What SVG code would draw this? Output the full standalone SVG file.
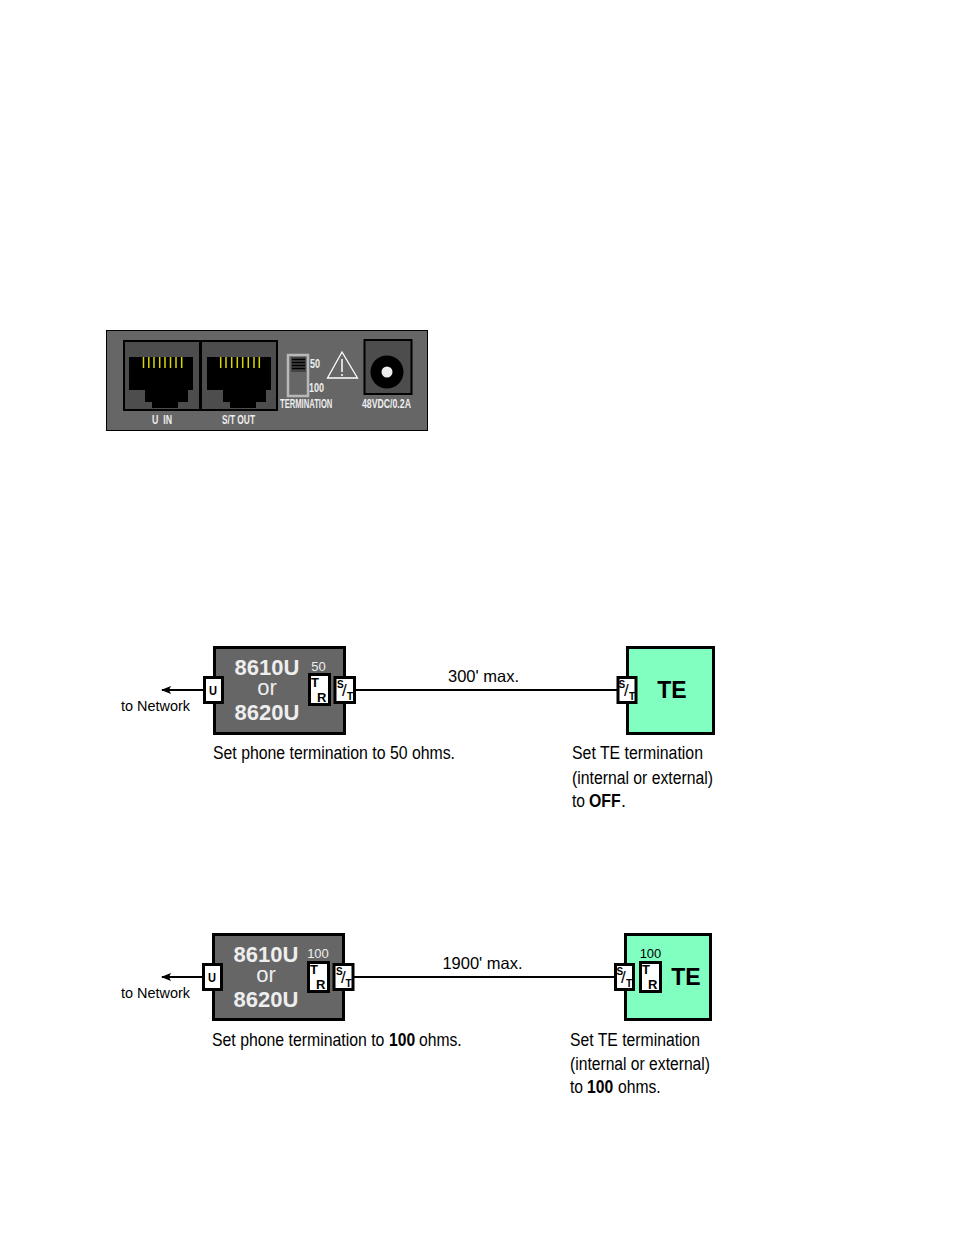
<svg xmlns="http://www.w3.org/2000/svg" width="954" height="1235" viewBox="0 0 954 1235">
<style>
text{font-family:"Liberation Sans",Arial,sans-serif;fill:#000}
.lbl{font-size:18px}
.b{font-weight:bold}
.net{font-size:14.5px}
.pw{fill:#eee;font-size:13px;font-weight:bold;white-space:pre}
.big{fill:#eee;font-size:22px;font-weight:bold;text-anchor:middle}
.or{fill:#eee;font-size:22px;text-anchor:middle}
.te{font-size:23px;font-weight:bold;text-anchor:middle}
.small{font-size:13px;text-anchor:middle}
.ws{fill:#eee}
.max{font-size:16.500px;text-anchor:middle}
.port{font-size:13px;font-weight:bold}
.s{font-size:10px;font-weight:bold}
.sl{font-size:17px}
.ln{stroke:#000;stroke-width:2;fill:none}
.box{fill:#666;stroke:#000;stroke-width:3}
.tebox{fill:#80ffc0;stroke:#000;stroke-width:3}
.wb{fill:#fff;stroke:#000;stroke-width:3}
.jack{fill:#4d4d4d;stroke:#000;stroke-width:2}
.y{stroke:#d8d800;stroke-width:1.500}
</style>
<defs>
<marker id="arr" viewBox="0 0 10 8" refX="1" refY="4" markerWidth="10" markerHeight="8" orient="0" markerUnits="userSpaceOnUse"><path d="M10 0L0 4L10 8L8 4Z" fill="#000"/></marker>
<path id="hole" d="M0 0H64V33H59V45H49V51H23V45H16V33H0Z" fill="#000"/>
</defs>

<g id="panel">
<rect x="106.500" y="330.500" width="321" height="100" fill="#666" stroke="#000"/>
<g id="jack-u"><rect class="jack" x="124" y="341" width="76" height="69"/><use href="#hole" x="129" y="357"/>
<path class="y" d="M143.500 357V368M148.800 357V368M154 357V368M159.700 357V368M165 357V368M170.500 357V368M176 357V368M181.700 357V368"/></g>
<g id="jack-st"><rect class="jack" x="201" y="341" width="76" height="69"/><use href="#hole" x="207" y="357"/>
<path class="y" d="M220.700 357V368M226 357V368M231.700 357V368M237.300 357V368M242.700 357V368M248.300 357V368M254 357V368M259.300 357V368"/></g>
<g id="switch"><rect x="288" y="355" width="20" height="41" fill="#666" stroke="#b8b8b8" stroke-width="2.500"/><rect x="291" y="357" width="15" height="15" fill="#444"/>
<path d="M292 359.500H305M292 362.500H305M292 365.500H305M292 368.500H305" stroke="#000" stroke-width="1.500"/></g>
<g id="warning"><path d="M342 352L327.500 378H357.500Z" fill="none" stroke="#fff" stroke-width="1.300"/><path d="M342 359V372M342 374V376" stroke="#fff" stroke-width="1.500"/></g>
<g id="power"><rect x="364.500" y="340" width="47" height="54" fill="#4d4d4d" stroke="#000" stroke-width="2"/><circle cx="387" cy="372" r="16.500" fill="#000"/><circle cx="387" cy="372" r="5.500" fill="#eee"/></g>
<text class="pw" x="152" y="424" textLength="20" lengthAdjust="spacingAndGlyphs">U  IN</text>
<text class="pw" x="222" y="424" textLength="33" lengthAdjust="spacingAndGlyphs">S/T OUT</text>
<text class="pw" transform="translate(280 408) scale(.587 1)">TERMINATION</text>
<text class="pw" transform="translate(362 408) scale(.671 1)">48VDC/0.2A</text>
<text class="pw" x="310" y="368" textLength="10" lengthAdjust="spacingAndGlyphs">50</text>
<text class="pw" x="309" y="392" textLength="15" lengthAdjust="spacingAndGlyphs">100</text>
</g>

<g id="connectors">
<line class="ln" x1="162" y1="690" x2="204" y2="690" marker-start="url(#arr)"/>
<line class="ln" x1="330" y1="690" x2="335" y2="690"/>
<line class="ln" x1="355" y1="690" x2="618" y2="690"/>
<line class="ln" x1="162" y1="977" x2="204" y2="977" marker-start="url(#arr)"/>
<line class="ln" x1="329" y1="977" x2="334" y2="977"/>
<line class="ln" x1="354" y1="977" x2="615" y2="977"/>
<line class="ln" x1="634" y1="977" x2="640" y2="977"/>
</g>

<g id="unit-1">
<rect class="box" x="214.500" y="647.500" width="130" height="86"/>
<text class="big" x="267" y="675">8610U</text><text class="or" x="267" y="695">or</text><text class="big" x="267" y="720">8620U</text>
<text class="small ws" x="318.500" y="671">50</text>
</g>
<g id="u-1"><rect class="wb" x="204.500" y="677.500" width="18" height="25"/><text class="port" x="209" y="695" textLength="8" lengthAdjust="spacingAndGlyphs">U</text></g>
<g id="tr-1"><rect class="wb" x="309.500" y="674.500" width="20" height="30"/><text class="port" x="311" y="687">T</text><text class="port" x="317" y="702">R</text></g>
<g id="st-1"><rect class="wb" x="335" y="677.500" width="19.500" height="25"/><text class="s" x="337" y="688">S</text><text class="sl" x="342" y="696">/</text><text class="s" x="347" y="700">T</text></g>
<text class="net" x="121" y="711" textLength="69" lengthAdjust="spacingAndGlyphs">to Network</text>
<text class="max" x="483.500" y="682">300' max.</text>
<text class="lbl" x="213" y="759" textLength="242" lengthAdjust="spacingAndGlyphs">Set phone termination to 50 ohms.</text>

<g id="te-1"><rect class="tebox" x="627.500" y="647.500" width="86" height="86"/><text class="te" x="672" y="698">TE</text></g>
<g id="st-2"><rect class="wb" x="618" y="677.500" width="18" height="25"/><text class="s" x="618.500" y="688">S</text><text class="sl" x="624" y="696">/</text><text class="s" x="629" y="700">T</text></g>
<text class="lbl" x="572" y="759" textLength="131" lengthAdjust="spacingAndGlyphs">Set TE termination</text>
<text class="lbl" x="572" y="784" textLength="141" lengthAdjust="spacingAndGlyphs">(internal or external)</text>
<text class="lbl" transform="translate(572 807) scale(.87 1)">to</text>
<text class="lbl b" transform="translate(589 807) scale(.88 1)">OFF</text>
<text class="lbl" x="621" y="807">.</text>

<g id="unit-2">
<rect class="box" x="213.500" y="934.500" width="130" height="85"/>
<text class="big" x="266" y="962">8610U</text><text class="or" x="266" y="982">or</text><text class="big" x="266" y="1007">8620U</text>
<text class="small ws" x="318" y="958">100</text>
</g>
<g id="u-3"><rect class="wb" x="203.500" y="964.500" width="18" height="25"/><text class="port" x="208" y="982" textLength="8" lengthAdjust="spacingAndGlyphs">U</text></g>
<g id="tr-3"><rect class="wb" x="308.500" y="962.500" width="20" height="29"/><text class="port" x="310" y="974">T</text><text class="port" x="316" y="989">R</text></g>
<g id="st-3"><rect class="wb" x="334" y="964.500" width="19" height="25"/><text class="s" x="336" y="975">S</text><text class="sl" x="341" y="983">/</text><text class="s" x="345.500" y="987">T</text></g>
<text class="net" x="121" y="998" textLength="69" lengthAdjust="spacingAndGlyphs">to Network</text>
<text class="max" x="482.500" y="969">1900' max.</text>
<text class="lbl" transform="translate(212 1046) scale(.88 1)">Set phone termination to</text>
<text class="lbl b" transform="translate(389 1046) scale(.87 1)">100</text>
<text class="lbl" transform="translate(419 1046) scale(.87 1)">ohms.</text>

<g id="te-2"><rect class="tebox" x="625.500" y="934.500" width="85" height="85"/><text class="te" x="686" y="985">TE</text><text class="small" x="650.500" y="958">100</text></g>
<g id="st-4"><rect class="wb" x="615.500" y="964.500" width="18" height="25"/><text class="s" x="616.500" y="975">S</text><text class="sl" x="621" y="983">/</text><text class="s" x="626" y="987">T</text></g>
<g id="tr-4"><rect class="wb" x="640.500" y="962.500" width="20" height="29"/><text class="port" x="642" y="974">T</text><text class="port" x="648" y="989">R</text></g>
<text class="lbl" x="570" y="1046" textLength="130" lengthAdjust="spacingAndGlyphs">Set TE termination</text>
<text class="lbl" x="570" y="1070" textLength="140" lengthAdjust="spacingAndGlyphs">(internal or external)</text>
<text class="lbl" transform="translate(570 1093) scale(.87 1)">to</text>
<text class="lbl b" transform="translate(587 1093) scale(.87 1)">100</text>
<text class="lbl" transform="translate(618 1093) scale(.87 1)">ohms.</text>
</svg>
